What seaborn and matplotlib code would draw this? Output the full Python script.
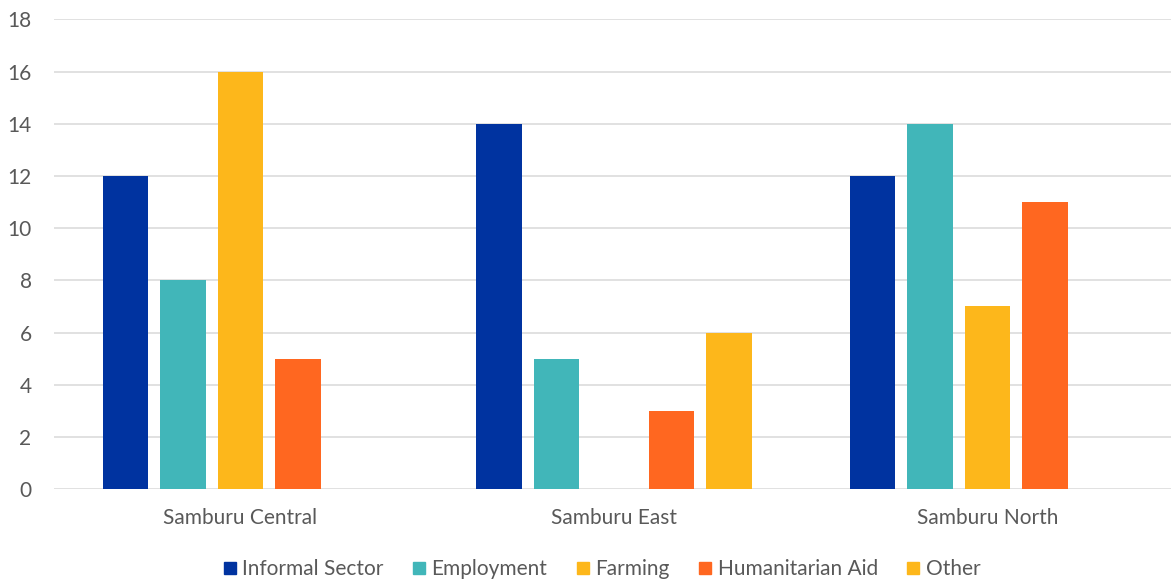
import numpy as np
import pandas as pd
import matplotlib
matplotlib.use("Agg")
import matplotlib.pyplot as plt
from matplotlib.lines import Line2D
import seaborn as sns

regions = ["Samburu Central", "Samburu East", "Samburu North"]
sources = ["Informal Sector", "Employment", "Farming", "Humanitarian Aid", "Other"]

informal_sector = [12, 14, 12]
employment = [8, 5, 14]
farming = [16, np.nan, 7]
humanitarian_aid = [5, 3, 11]
other = [np.nan, 6, np.nan]

colors = {
    "Informal Sector": "#0033A0",
    "Employment": "#41B6B9",
    "Farming": "#FDB71B",
    "Humanitarian Aid": "#FF6720",
    "Other": "#FDB71B",
}

series = {
    "Informal Sector": informal_sector,
    "Employment": employment,
    "Farming": farming,
    "Humanitarian Aid": humanitarian_aid,
    "Other": other,
}
rows = []
for src, vals in series.items():
    for reg, v in zip(regions, vals):
        rows.append({"Region": reg, "Source": src, "Count": v})
df = pd.DataFrame(rows)

sns.set_theme(style="white")
plt.rcParams["font.family"] = ["Lato", "DejaVu Sans"]
text_color = "#595959"

fig = plt.figure(figsize=(11.71, 5.83), dpi=100)
ax = fig.add_axes([0.0459, 0.1612, 0.9569, 0.8054])

sns.barplot(data=df, x="Region", y="Count", hue="Source", hue_order=sources,
            order=regions, palette=colors, width=0.77, gap=0.21,
            saturation=1, errorbar=None, legend=False, ax=ax, zorder=3,
            linewidth=0)

ax.set_ylim(0, 18)
ax.set_xlim(-0.5, 2.5)
ax.set_yticks(range(0, 19, 2))
ax.yaxis.grid(True, color="#d9d9d9", linewidth=1.1, zorder=0)
ax.xaxis.grid(False)
for s in ax.spines.values():
    s.set_visible(False)
ax.set_xlabel("")
ax.set_ylabel("")
ax.tick_params(axis="y", length=0, pad=16, labelsize=15, labelcolor=text_color)
ax.tick_params(axis="x", length=0, pad=14, labelsize=15, labelcolor=text_color)

handles = [Line2D([0], [0], marker="s", linestyle="none", markersize=9,
                  markerfacecolor=colors[s], markeredgecolor=colors[s]) for s in sources]
fig.legend(handles, sources, loc="center", bbox_to_anchor=(0.514, 1 - 569 / 583),
           ncol=5, frameon=False, fontsize=15, labelcolor=text_color,
           handlelength=0.6, handletextpad=0.3, columnspacing=1.4)

fig.savefig("out.png", dpi=100)
